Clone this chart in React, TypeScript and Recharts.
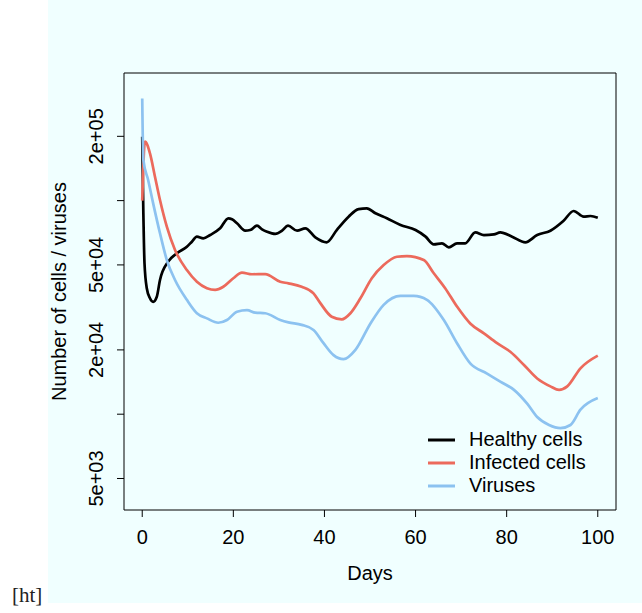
import { LineChart, Line, XAxis, YAxis, Legend, ReferenceArea, Label } from 'recharts';

const healthyDays = [0, 0.25, 0.5, 1, 1.7, 2.4, 3.2, 3.9, 5.7, 7.6, 9.8, 10.9, 12, 13.4, 14.9, 17.1, 18.9, 19.7, 20.8, 22.6, 23.7, 25.2, 26.3, 27.4, 29.2, 30.7, 32, 34, 35.8, 38, 40.5, 42.7, 45.3, 47.5, 49.3, 51.2, 53.7, 56.7, 60, 62.2, 64, 65.8, 67.3, 69.1, 70.9, 73.1, 75, 77.2, 78.6, 81.2, 84.1, 86.7, 89.6, 92.5, 94.7, 96.9, 98.4, 100];
const healthyCells = [199000, 87200, 50900, 38900, 34900, 33600, 35500, 42500, 51800, 56700, 60800, 64200, 67800, 66600, 69000, 74200, 82600, 81800, 78300, 72300, 72800, 76300, 73400, 71500, 69800, 72300, 76300, 72300, 74200, 67300, 63800, 72800, 84100, 91300, 92000, 87200, 82600, 76900, 72800, 67800, 62400, 63100, 60400, 63100, 63100, 71000, 69000, 69500, 71000, 67800, 63800, 69000, 72300, 80500, 89400, 84100, 84700, 83200];

const infectedDays = [0, 0.6, 1.7, 2.8, 3.9, 5.4, 7.2, 9.8, 12, 14.2, 16, 17.8, 20, 21.9, 24.1, 27, 30.3, 32.1, 35, 37.6, 39.1, 41.6, 43.8, 45.7, 47.9, 50.4, 53, 55.9, 58.1, 61.8, 64, 66.5, 69.1, 72, 75, 77.9, 80.8, 83.8, 86.7, 89.6, 91.5, 93.3, 96.2, 100];
const infectedCells = [100000, 188700, 166500, 129400, 100600, 75500, 58700, 47300, 41700, 38900, 38200, 39500, 43300, 46000, 45200, 45300, 41700, 41000, 39500, 36800, 33100, 28600, 27800, 29700, 34900, 43300, 49900, 54600, 55000, 52700, 45700, 38900, 31900, 26600, 23900, 21500, 19600, 17000, 14700, 13500, 13000, 13500, 16400, 18800];

const virusDays = [0, 0.25, 1.3, 2.4, 3.9, 5.4, 7.2, 9.8, 12, 14.2, 16.7, 18.6, 20.8, 23, 24.8, 27, 30.3, 32.1, 35, 37.6, 39.8, 42, 44.2, 46.8, 50.1, 53, 56.7, 59.6, 62.5, 66.2, 69.1, 72, 75.7, 78.6, 81.6, 84.5, 86.7, 89.3, 91.8, 94, 96.2, 100];
const viruses = [301000, 154900, 124900, 97100, 70300, 52700, 42500, 34300, 29700, 28100, 26800, 27600, 30200, 30700, 29900, 29700, 27600, 26900, 26200, 24800, 21500, 18900, 18100, 20000, 26600, 32500, 35800, 35800, 34300, 27600, 21500, 17300, 15500, 14200, 13000, 11200, 9700, 8900, 8600, 8900, 10500, 11900];

const xTicks = [0, 20, 40, 60, 80, 100];
const yTicks = [5000, 10000, 20000, 50000, 100000, 200000];
const yTickLabels = ['5e+03', '', '2e+04', '5e+04', '', '2e+05'];

const X_DOMAIN = [-4, 104];
const Y_DOMAIN = [3560, 395800];
const FONT = '"Liberation Sans", Arial, Helvetica, sans-serif';

const toRows = (days: number[], vals: number[]) => days.map((day, i) => ({ day, value: vals[i] }));

const series = [
  { name: 'Healthy cells', color: '#000000', data: toRows(healthyDays, healthyCells) },
  { name: 'Infected cells', color: '#EC6A5C', data: toRows(infectedDays, infectedCells) },
  { name: 'Viruses', color: '#8CC2F0', data: toRows(virusDays, viruses) },
];

function YTick(props: any) {
  const { x, y, payload } = props;
  const i = yTicks.indexOf(payload.value);
  const label = i >= 0 ? yTickLabels[i] : '';
  if (!label) return null;
  return (
    <text x={x} y={y} transform={`rotate(-90 ${x} ${y})`} textAnchor="middle"
      fontSize={20} fontFamily={FONT} fill="#000">
      {label}
    </text>
  );
}

function LegendBox(props: any) {
  const items = props.payload || [];
  return (
    <div style={{ fontFamily: FONT, fontSize: 20, color: '#000' }}>
      {items.map((it: any) => (
        <div key={it.value} style={{ display: 'flex', alignItems: 'center', height: 23 }}>
          <svg width={27} height={4} style={{ display: 'block' }}>
            <line x1={0} y1={2} x2={27} y2={2} stroke={it.color} strokeWidth={3} />
          </svg>
          <span style={{ marginLeft: 14, lineHeight: '23px' }}>{it.value}</span>
        </div>
      ))}
    </div>
  );
}

export default function App() {
  return (
    <div style={{ position: 'absolute', left: 0, top: 0, width: 642, height: 613, background: '#fff' }}>
      <div style={{ position: 'absolute', left: 48, top: 0, width: 594, height: 603, background: '#F0FFFF' }} />
      <div style={{ position: 'absolute', left: 12, top: 585, fontFamily: '"Liberation Serif", "Times New Roman", serif', fontSize: 21, lineHeight: '21px', color: '#222' }}>
        [ht]
      </div>
      <div style={{ position: 'absolute', left: 0, top: 0 }}>
        <LineChart width={642} height={613} margin={{ top: 73, right: 26, bottom: 73, left: 0 }}>
          <XAxis dataKey="day" type="number" domain={X_DOMAIN} ticks={xTicks} allowDataOverflow
            axisLine={false} tickLine={{ stroke: '#000' }} tickSize={7} tickMargin={13} height={30}
            tick={{ fontSize: 20, fill: '#000', fontFamily: FONT }}>
            <Label content={(p: any) => (
              <text x={p.viewBox.x + p.viewBox.width / 2} y={p.viewBox.y + 70} textAnchor="middle"
                fontSize={20} fontFamily={FONT} fill="#000">Days</text>
            )} />
          </XAxis>
          <YAxis dataKey="value" scale="log" domain={Y_DOMAIN} ticks={yTicks} allowDataOverflow
            axisLine={false} tickLine={{ stroke: '#000' }} tickSize={7} tickMargin={14} width={124}
            tick={<YTick />}>
            <Label content={(p: any) => {
              const cx = 66;
              const cy = p.viewBox.y + p.viewBox.height / 2;
              return (
                <text x={cx} y={cy} transform={`rotate(-90 ${cx} ${cy})`} textAnchor="middle"
                  fontSize={20} fontFamily={FONT} fill="#000">Number of cells / viruses</text>
              );
            }} />
          </YAxis>
          <ReferenceArea x1={X_DOMAIN[0]} x2={X_DOMAIN[1]} y1={Y_DOMAIN[0]} y2={Y_DOMAIN[1]}
            fill="none" stroke="#000" strokeWidth={1} ifOverflow="visible" />
          {series.map(s => (
            <Line key={s.name} data={s.data} dataKey="value" name={s.name} type="monotone"
              stroke={s.color} strokeWidth={2.7} dot={false} activeDot={false} isAnimationActive={false} />
          ))}
          <Legend layout="vertical" align="center" verticalAlign="middle" content={<LegendBox />}
            wrapperStyle={{ left: 428, top: 428, width: 190 }} />
        </LineChart>
      </div>
    </div>
  );
}
